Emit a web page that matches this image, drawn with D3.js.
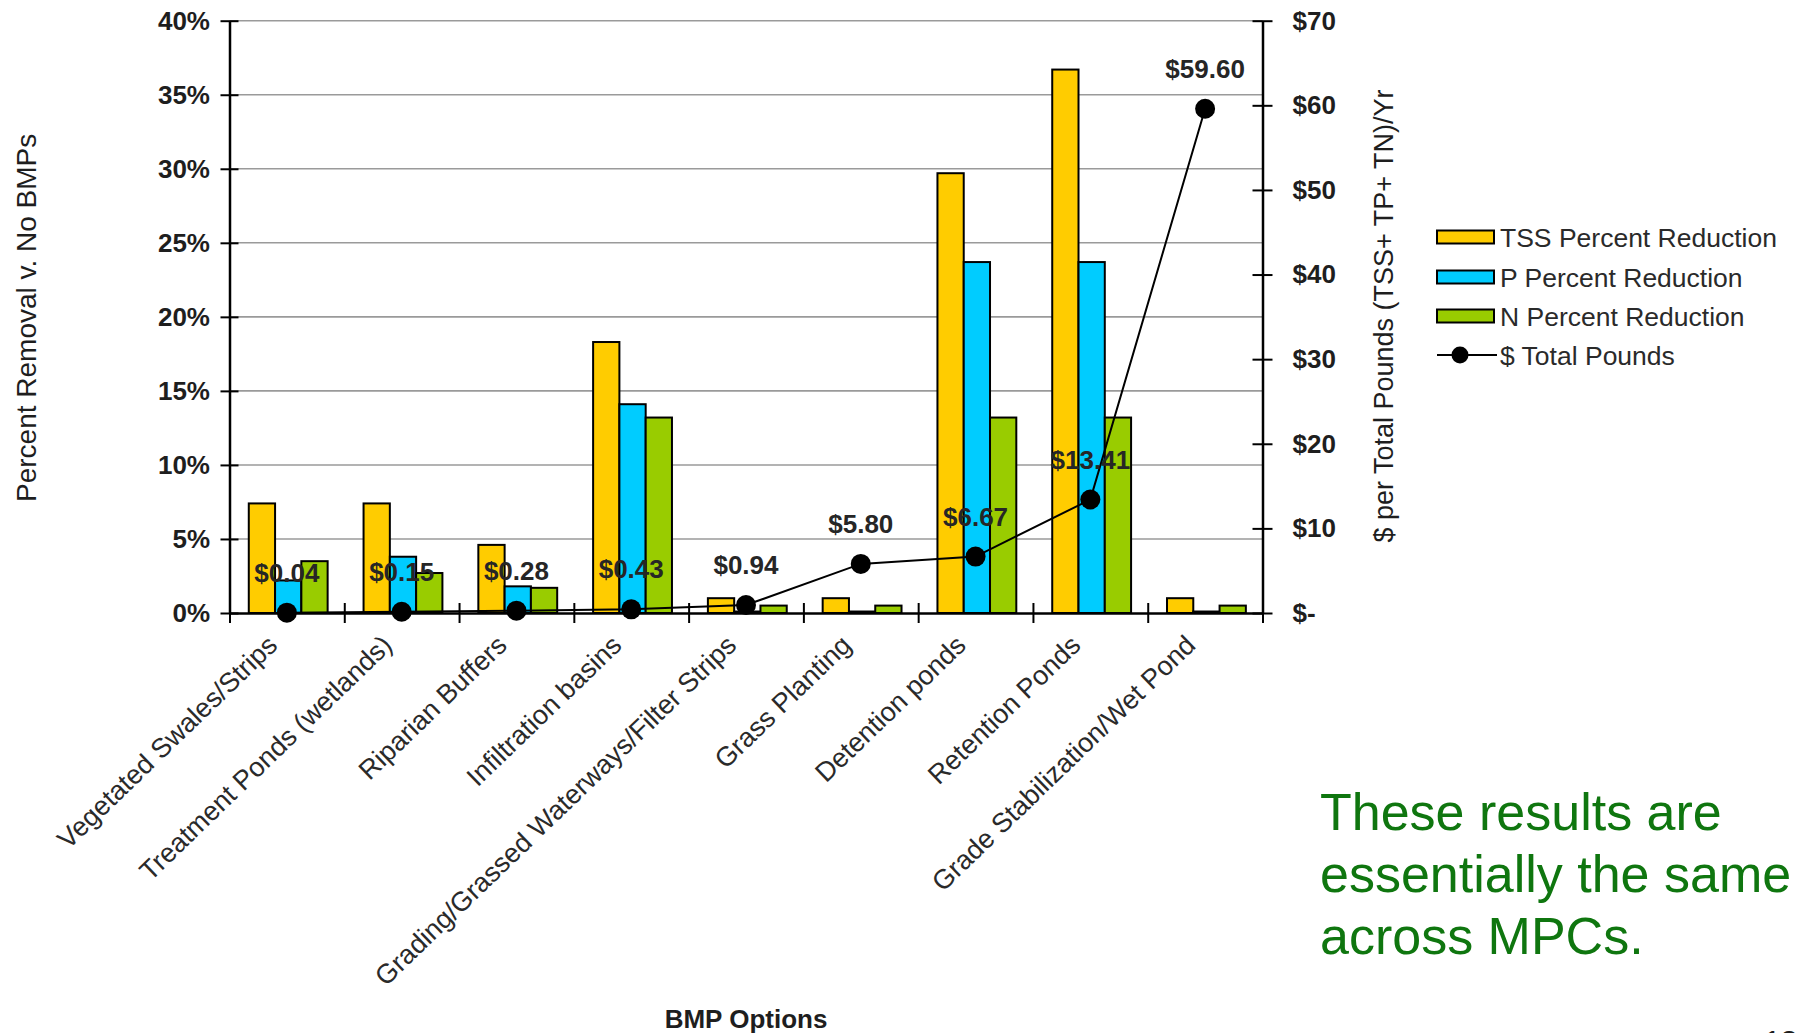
<!DOCTYPE html>
<html>
<head>
<meta charset="utf-8">
<script src="https://cdn.jsdelivr.net/npm/d3@7/dist/d3.min.js"></script>
<style>
  html, body { margin: 0; padding: 0; background: #ffffff; }
  svg { display: block; }
  text { font-family: Arial, "Liberation Sans", Helvetica, sans-serif; }
</style>
</head>
<body>
<svg id="chart" width="1799" height="1033"></svg>
<script>
// BMP options and their modelled reductions (percent vs. no BMPs) and cost
const categories = [
  "Vegetated Swales/Strips",
  "Treatment Ponds (wetlands)",
  "Riparian Buffers",
  "Infiltration basins",
  "Grading/Grassed Waterways/Filter Strips",
  "Grass Planting",
  "Detention ponds",
  "Retention Ponds",
  "Grade Stabilization/Wet Pond"
];
const tssReduction = [7.4, 7.4, 4.6, 18.3, 1.0, 1.0, 29.7, 36.7, 1.0];
const pReduction   = [2.2, 3.8, 1.8, 14.1, 0.1, 0.1, 23.7, 23.7, 0.1];
const nReduction   = [3.5, 2.7, 1.7, 13.2, 0.5, 0.5, 13.2, 13.2, 0.5];
const costPerPound = [0.04, 0.15, 0.28, 0.43, 0.94, 5.80, 6.67, 13.41, 59.60];

const seriesNames = ["TSS Percent Reduction", "P Percent Reduction", "N Percent Reduction"];
const lineName = "$ Total Pounds";
const percentTicks = [0, 5, 10, 15, 20, 25, 30, 35, 40];
const dollarTicks = [0, 10, 20, 30, 40, 50, 60, 70];
const percentTickLabels = ["0%", "5%", "10%", "15%", "20%", "25%", "30%", "35%", "40%"];
const dollarTickLabels = ["$-", "$10", "$20", "$30", "$40", "$50", "$60", "$70"];

const leftTitle = "Percent Removal v. No BMPs";
const rightTitle = "$ per Total Pounds (TSS+ TP+ TN)/Yr";
const bottomTitle = "BMP Options";
const noteLines = ["These results are", "essentially the same", "across MPCs."];
const pageNumber = "13";

const barColors = ["#FFCC00", "#00CCFF", "#99CC00"];
const ink = "#1e1e1e";

const svg = d3.select("#chart");
const plot = { left: 229.5, right: 1262.5, top: 20.7, bottom: 613 };

const x = d3.scaleBand().domain(categories).range([plot.left, plot.right]).padding(0);
const xInner = d3.scaleBand().domain(seriesNames)
  .range([x.bandwidth() * 0.168, x.bandwidth() * 0.855]).padding(0);
const xEdges = d3.scaleLinear().domain([0, categories.length]).range([plot.left, plot.right]);
const yPct = d3.scaleLinear().domain([0, 40]).range([plot.bottom, plot.top]);
const yUsd = d3.scaleLinear().domain([0, 70]).range([plot.bottom, plot.top]);

// horizontal gridlines on the percent scale
svg.append("g").selectAll("line")
  .data(percentTicks.filter(d => d > 0))
  .join("line")
  .attr("x1", plot.left).attr("x2", plot.right)
  .attr("y1", d => yPct(d)).attr("y2", d => yPct(d))
  .attr("stroke", "#9a9a9a").attr("stroke-width", 1.6);

// grouped bars
const rows = categories.map((c, i) => ({
  category: c,
  values: [tssReduction[i], pReduction[i], nReduction[i]]
}));
const groups = svg.append("g").selectAll("g")
  .data(rows).join("g")
  .attr("transform", d => `translate(${x(d.category)},0)`);
groups.selectAll("rect")
  .data(d => d.values.map((v, k) => ({ key: seriesNames[k], value: v, k })))
  .join("rect")
  .attr("x", d => xInner(d.key))
  .attr("width", xInner.bandwidth())
  .attr("y", d => yPct(d.value))
  .attr("height", d => yPct(0) - yPct(d.value))
  .attr("fill", d => barColors[d.k])
  .attr("stroke", "#000").attr("stroke-width", 2);

// left percent axis
const leftAxis = svg.append("g")
  .attr("transform", `translate(${plot.left},0)`)
  .call(d3.axisLeft(yPct).tickValues(percentTicks)
    .tickFormat((d, i) => percentTickLabels[i])
    .tickSize(9).tickSizeOuter(0).tickPadding(10.5));
leftAxis.selectAll(".tick line").attr("x1", 9).attr("stroke-width", 2);
leftAxis.select(".domain").attr("stroke-width", 2.5);
leftAxis.selectAll("text")
  .attr("font-size", 26).attr("font-weight", "bold").attr("fill", ink)
  .style("font-family", "Arial, 'Liberation Sans', sans-serif");

// right dollar axis
const rightAxis = svg.append("g")
  .attr("transform", `translate(${plot.right},0)`)
  .call(d3.axisRight(yUsd).tickValues(dollarTicks)
    .tickFormat((d, i) => dollarTickLabels[i])
    .tickSize(10).tickSizeOuter(0).tickPadding(20));
rightAxis.selectAll(".tick line").attr("x1", -10).attr("stroke-width", 2);
rightAxis.select(".domain").attr("stroke-width", 2.5);
rightAxis.selectAll("text")
  .attr("font-size", 26).attr("font-weight", "bold").attr("fill", ink)
  .style("font-family", "Arial, 'Liberation Sans', sans-serif");

// bottom axis: crossing ticks at category boundaries
const edgeAxis = svg.append("g")
  .attr("transform", `translate(0,${plot.bottom})`)
  .call(d3.axisBottom(xEdges).tickValues(d3.range(categories.length + 1))
    .tickFormat("").tickSize(10).tickSizeOuter(0));
edgeAxis.selectAll(".tick line").attr("y1", -10).attr("stroke-width", 2);
edgeAxis.select(".domain").attr("stroke-width", 2.5);

// rotated category labels
const catAxis = svg.append("g")
  .attr("transform", `translate(0,${plot.bottom})`)
  .call(d3.axisBottom(x).tickSize(0).tickSizeOuter(0));
catAxis.select(".domain").remove();
catAxis.selectAll("text")
  .attr("x", 0).attr("y", 0).attr("dy", 0)
  .attr("text-anchor", "end")
  .attr("transform", "translate(-8,34) rotate(-44)")
  .attr("font-size", 27).attr("fill", "#2a2a2a")
  .style("font-family", "Arial, 'Liberation Sans', sans-serif");

// cost line with markers
const pts = categories.map((c, i) => ({ cx: x(c) + x.bandwidth() / 2, v: costPerPound[i] }));
svg.append("path")
  .datum(pts)
  .attr("fill", "none").attr("stroke", "#000").attr("stroke-width", 2)
  .attr("d", d3.line().x(d => d.cx).y(d => yUsd(d.v)));
svg.append("g").selectAll("circle")
  .data(pts).join("circle")
  .attr("cx", d => d.cx).attr("cy", d => yUsd(d.v)).attr("r", 10)
  .attr("fill", "#000");

// cost labels
svg.append("g").selectAll("text")
  .data(pts).join("text")
  .attr("x", d => d.cx).attr("y", d => yUsd(d.v) - 31)
  .attr("text-anchor", "middle")
  .attr("font-size", 26).attr("font-weight", "bold").attr("fill", "#262626")
  .text(d => "$" + d.v.toFixed(2));

// axis titles
svg.append("text")
  .attr("transform", `translate(36,${(plot.top + plot.bottom) / 2 + 1}) rotate(-90)`)
  .attr("text-anchor", "middle").attr("font-size", 28).attr("fill", ink)
  .text(leftTitle);
svg.append("text")
  .attr("transform", `translate(1393,316) rotate(-90)`)
  .attr("text-anchor", "middle").attr("font-size", 27).attr("fill", ink)
  .text(rightTitle);
svg.append("text")
  .attr("x", (plot.left + plot.right) / 2).attr("y", 1028)
  .attr("text-anchor", "middle").attr("font-size", 26).attr("font-weight", "bold").attr("fill", ink)
  .text(bottomTitle);

// legend
const legend = svg.append("g").attr("transform", "translate(1437,0)");
const legendRows = [237, 277, 316];
seriesNames.forEach((name, k) => {
  legend.append("rect")
    .attr("x", 0).attr("y", legendRows[k] - 6.5).attr("width", 57).attr("height", 13)
    .attr("fill", barColors[k]).attr("stroke", "#000").attr("stroke-width", 2);
  legend.append("text")
    .attr("x", 63).attr("y", legendRows[k] + 9.5)
    .attr("font-size", 26.5).attr("fill", "#2a2a2a").text(name);
});
legend.append("line")
  .attr("x1", 0).attr("x2", 60).attr("y1", 355).attr("y2", 355)
  .attr("stroke", "#000").attr("stroke-width", 2);
legend.append("circle").attr("cx", 23).attr("cy", 355).attr("r", 8.5).attr("fill", "#000");
legend.append("text")
  .attr("x", 63).attr("y", 355 + 9.5)
  .attr("font-size", 26.5).attr("fill", "#2a2a2a").text(lineName);

// side note
svg.append("g").selectAll("text")
  .data(noteLines).join("text")
  .attr("x", 1320).attr("y", (d, i) => 830 + i * 62)
  .attr("font-size", 52).attr("fill", "#0f760f")
  .text(d => d);

// page number, mostly below the visible area
svg.append("text")
  .attr("x", 1764).attr("y", 1051)
  .attr("font-size", 30).attr("fill", ink)
  .text(pageNumber);
</script>
</body>
</html>
